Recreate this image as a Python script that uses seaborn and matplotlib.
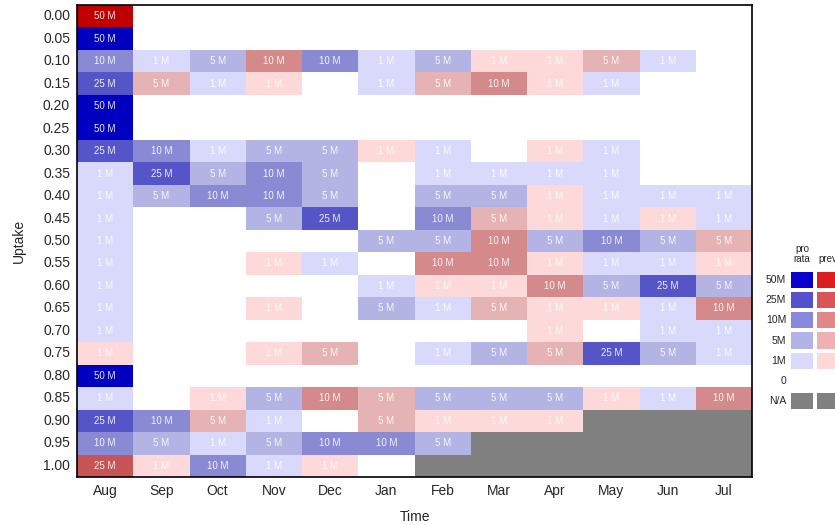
import numpy as np
import pandas as pd
import matplotlib
matplotlib.use("Agg")
import matplotlib.pyplot as plt
from matplotlib.colors import ListedColormap
import seaborn as sns

sns.set_style("white")
plt.rcParams['font.family'] = ['Liberation Sans', 'DejaVu Sans']

# --- data ---
months = ['Aug', 'Sep', 'Oct', 'Nov', 'Dec', 'Jan', 'Feb', 'Mar', 'Apr', 'May', 'Jun', 'Jul']
uptake = ['0.00', '0.05', '0.10', '0.15', '0.20', '0.25', '0.30', '0.35', '0.40', '0.45', '0.50',
          '0.55', '0.60', '0.65', '0.70', '0.75', '0.80', '0.85', '0.90', '0.95', '1.00']

# B = pro rata (blue), R = prev (red), 0 = nothing, NA = not available
cells = [
    ['R50', '0', '0', '0', '0', '0', '0', '0', '0', '0', '0', '0'],
    ['B50', '0', '0', '0', '0', '0', '0', '0', '0', '0', '0', '0'],
    ['B10', 'B1', 'B5', 'R10', 'B10', 'B1', 'B5', 'R1', 'R1', 'R5', 'B1', '0'],
    ['B25', 'R5', 'B1', 'R1', '0', 'B1', 'R5', 'R10', 'R1', 'B1', '0', '0'],
    ['B50', '0', '0', '0', '0', '0', '0', '0', '0', '0', '0', '0'],
    ['B50', '0', '0', '0', '0', '0', '0', '0', '0', '0', '0', '0'],
    ['B25', 'B10', 'B1', 'B5', 'B5', 'R1', 'B1', '0', 'R1', 'B1', '0', '0'],
    ['B1', 'B25', 'B5', 'B10', 'B5', '0', 'B1', 'B1', 'B1', 'B1', '0', '0'],
    ['B1', 'B5', 'B10', 'B10', 'B5', '0', 'B5', 'B5', 'R1', 'B1', 'B1', 'B1'],
    ['B1', '0', '0', 'B5', 'B25', '0', 'B10', 'R5', 'R1', 'B1', 'R1', 'B1'],
    ['B1', '0', '0', '0', '0', 'B5', 'B5', 'R10', 'B5', 'B10', 'B5', 'R5'],
    ['B1', '0', '0', 'R1', 'B1', '0', 'R10', 'R10', 'R1', 'B1', 'B1', 'R1'],
    ['B1', '0', '0', '0', '0', 'B1', 'R1', 'R1', 'R10', 'B5', 'B25', 'B5'],
    ['B1', '0', '0', 'R1', '0', 'B5', 'B1', 'R5', 'R1', 'R1', 'B1', 'R10'],
    ['B1', '0', '0', '0', '0', '0', '0', '0', 'R1', '0', 'B1', 'B1'],
    ['R1', '0', '0', 'R1', 'R5', '0', 'B1', 'B5', 'R5', 'B25', 'B5', 'B1'],
    ['B50', '0', '0', '0', '0', '0', '0', '0', '0', '0', '0', '0'],
    ['B1', '0', 'R1', 'B5', 'R10', 'R5', 'B5', 'B5', 'B5', 'R1', 'B1', 'R10'],
    ['B25', 'B10', 'R5', 'B1', '0', 'R5', 'R1', 'R1', 'R1', 'NA', 'NA', 'NA'],
    ['B10', 'B5', 'B1', 'B5', 'B10', 'B10', 'B5', 'NA', 'NA', 'NA', 'NA', 'NA'],
    ['R25', 'R1', 'B10', 'B1', 'R1', '0', 'NA', 'NA', 'NA', 'NA', 'NA', 'NA'],
]

sizes = ['1', '5', '10', '25', '50']
codes = ['0'] + ['B' + s for s in sizes] + ['R' + s for s in sizes] + ['NA']

# colours as drawn in the grid (light -> dark)
blue_cells = ['#D9D9FC', '#B3B3E4', '#8A8AD4', '#5555C8', '#0000C0']
red_cells = ['#FDD9D9', '#E5B3B3', '#D48A8A', '#C85555', '#C00000']
# legend swatches are a bit brighter
blue_key = ['#DADAFF', '#B3B3E8', '#8888DD', '#5550CC', '#0A00D0']
red_key = ['#FFD8D8', '#EEB0B0', '#E08888', '#D95555', '#DD1E1E']

grid_cmap = ListedColormap(['white'] + blue_cells + red_cells + ['#808080'])

code_idx = {c: i for i, c in enumerate(codes)}
mat = pd.DataFrame([[code_idx[c] for c in row] for row in cells], index=uptake, columns=months)
labels = np.array([[c[1:] + ' M' if c[0] in 'BR' else '' for c in row] for row in cells])

fig = plt.figure(figsize=(8.35, 5.25), dpi=100)
ax = fig.add_axes([77 / 835, 1 - 477 / 525, 675 / 835, 472 / 525])

sns.heatmap(mat, ax=ax, cmap=grid_cmap, vmin=-0.5, vmax=len(codes) - 0.5, cbar=False,
            annot=labels, fmt='', annot_kws={'fontsize': 7, 'color': 'white', 'alpha': 0.9})

for s in ax.spines.values():
    s.set_visible(True)
    s.set_color('black')
    s.set_linewidth(1.2)
ax.tick_params(length=0, labelsize=10, pad=5)
ax.set_yticklabels(uptake, rotation=0)
ax.set_xticklabels(months, rotation=0)
ax.set_xlabel('Time', fontsize=10, labelpad=9)
ax.set_ylabel('Uptake', fontsize=10, labelpad=12)

# --- legend (cut off at the right edge like the original) ---
key_rows = ['50M', '25M', '10M', '5M', '1M', '0', 'N/A']
key_cols = ['pro\nrata', 'prev']
key_colors = ['white'] + blue_key[::-1] + red_key[::-1] + ['#808080']
key_codes = [[1 + i, 6 + i] for i in range(5)] + [[0, 0], [11, 11]]
key_cmap = ListedColormap(key_colors)
key_mat = pd.DataFrame(key_codes, index=key_rows, columns=key_cols)

kax = fig.add_axes([789 / 835, 1 - 411 / 525, 52 / 835, 141 / 525])
sns.heatmap(key_mat, ax=kax, cmap=key_cmap, vmin=-0.5, vmax=11.5, cbar=False,
            linewidths=1.5, linecolor='white')
kax.tick_params(length=0, labelsize=7.5, pad=2)
kax.set_yticklabels(key_rows, rotation=0)
kax.xaxis.tick_top()
kax.tick_params(axis='x', pad=4)
kax.set_xticklabels(key_cols, rotation=0, fontsize=7, linespacing=1.05)

fig.savefig('out.png', dpi=100)
